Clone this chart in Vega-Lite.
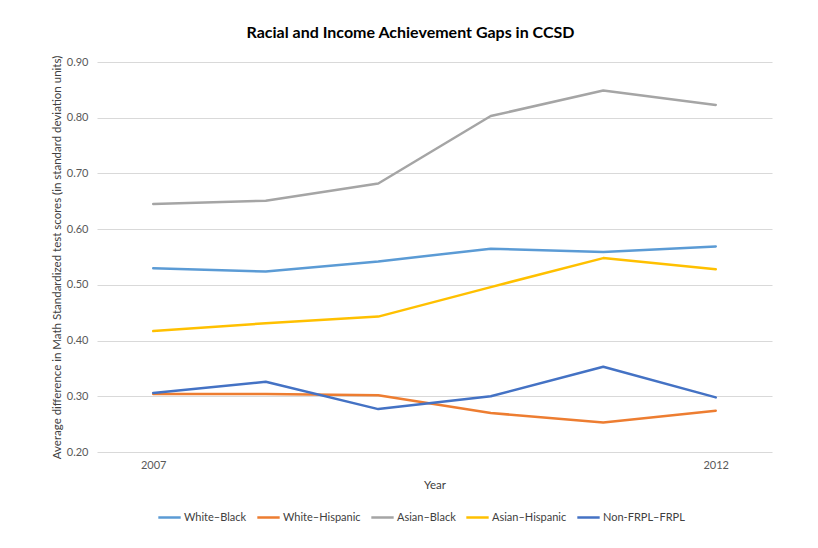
{
  "$schema": "https://vega.github.io/schema/vega-lite/v6.json",
  "autosize": {"type": "none"},
  "width": 675,
  "height": 390,
  "padding": {"left": 97, "top": 62, "right": 46, "bottom": 96},
  "background": "white",
  "title": {
    "text": "Racial and Income Achievement Gaps in CCSD",
    "font": "Lato",
    "fontSize": 16,
    "fontWeight": "bold",
    "color": "#000000",
    "anchor": "middle",
    "dx": -24,
    "offset": 14
  },
  "data": {
    "values": [
      {"year": "2007", "group": "White–Black", "gap": 0.530},
      {"year": "2008", "group": "White–Black", "gap": 0.524},
      {"year": "2009", "group": "White–Black", "gap": 0.542},
      {"year": "2010", "group": "White–Black", "gap": 0.565},
      {"year": "2011", "group": "White–Black", "gap": 0.559},
      {"year": "2012", "group": "White–Black", "gap": 0.569},
      {"year": "2007", "group": "White–Hispanic", "gap": 0.304},
      {"year": "2008", "group": "White–Hispanic", "gap": 0.304},
      {"year": "2009", "group": "White–Hispanic", "gap": 0.302},
      {"year": "2010", "group": "White–Hispanic", "gap": 0.270},
      {"year": "2011", "group": "White–Hispanic", "gap": 0.253},
      {"year": "2012", "group": "White–Hispanic", "gap": 0.274},
      {"year": "2007", "group": "Asian–Black", "gap": 0.645},
      {"year": "2008", "group": "Asian–Black", "gap": 0.651},
      {"year": "2009", "group": "Asian–Black", "gap": 0.682},
      {"year": "2010", "group": "Asian–Black", "gap": 0.803},
      {"year": "2011", "group": "Asian–Black", "gap": 0.849},
      {"year": "2012", "group": "Asian–Black", "gap": 0.823},
      {"year": "2007", "group": "Asian–Hispanic", "gap": 0.417},
      {"year": "2008", "group": "Asian–Hispanic", "gap": 0.431},
      {"year": "2009", "group": "Asian–Hispanic", "gap": 0.443},
      {"year": "2010", "group": "Asian–Hispanic", "gap": 0.496},
      {"year": "2011", "group": "Asian–Hispanic", "gap": 0.548},
      {"year": "2012", "group": "Asian–Hispanic", "gap": 0.528},
      {"year": "2007", "group": "Non-FRPL–FRPL", "gap": 0.306},
      {"year": "2008", "group": "Non-FRPL–FRPL", "gap": 0.326},
      {"year": "2009", "group": "Non-FRPL–FRPL", "gap": 0.277},
      {"year": "2010", "group": "Non-FRPL–FRPL", "gap": 0.300},
      {"year": "2011", "group": "Non-FRPL–FRPL", "gap": 0.353},
      {"year": "2012", "group": "Non-FRPL–FRPL", "gap": 0.298}
    ]
  },
  "mark": {"type": "line", "strokeWidth": 2.5, "strokeCap": "round", "strokeJoin": "round"},
  "encoding": {
    "x": {
      "field": "year",
      "type": "ordinal",
      "scale": {"type": "point", "padding": 0.5},
      "axis": {
        "title": "Year",
        "labelAngle": 0,
        "labelExpr": "datum.value == '2007' || datum.value == '2012' ? datum.value : ''",
        "ticks": false,
        "domain": false,
        "grid": false,
        "labelPadding": 7,
        "titlePadding": 9
      }
    },
    "y": {
      "field": "gap",
      "type": "quantitative",
      "scale": {"domain": [0.2, 0.9], "nice": false, "zero": false},
      "axis": {
        "title": "Average difference in Math Standardized test scores (in standard deviation units)",
        "values": [0.2, 0.3, 0.4, 0.5, 0.6, 0.7, 0.8, 0.9],
        "format": ".2f",
        "ticks": false,
        "domain": false,
        "labelPadding": 9,
        "titlePadding": 4
      }
    },
    "color": {
      "field": "group",
      "type": "nominal",
      "scale": {
        "domain": ["White–Black", "White–Hispanic", "Asian–Black", "Asian–Hispanic", "Non-FRPL–FRPL"],
        "range": ["#5B9BD5", "#ED7D31", "#A5A5A5", "#FFC000", "#4472C4"]
      },
      "legend": {
        "title": null,
        "orient": "none",
        "direction": "horizontal",
        "legendX": 60,
        "legendY": 443,
        "symbolType": "stroke",
        "symbolSize": 500,
        "symbolStrokeWidth": 2.5,
        "labelOffset": 2,
        "columnPadding": 5,
        "gridAlign": "none"
      }
    }
  },
  "config": {
    "font": "Lato",
    "view": {"stroke": null},
    "axis": {
      "labelFont": "Lato",
      "labelFontSize": 11,
      "labelColor": "#595959",
      "titleFont": "Lato",
      "titleFontSize": 11.5,
      "titleFontWeight": "normal",
      "titleColor": "#404040",
      "gridColor": "#D9D9D9",
      "gridWidth": 1
    },
    "legend": {
      "labelFont": "Lato",
      "labelFontSize": 11,
      "labelColor": "#404040"
    }
  }
}
